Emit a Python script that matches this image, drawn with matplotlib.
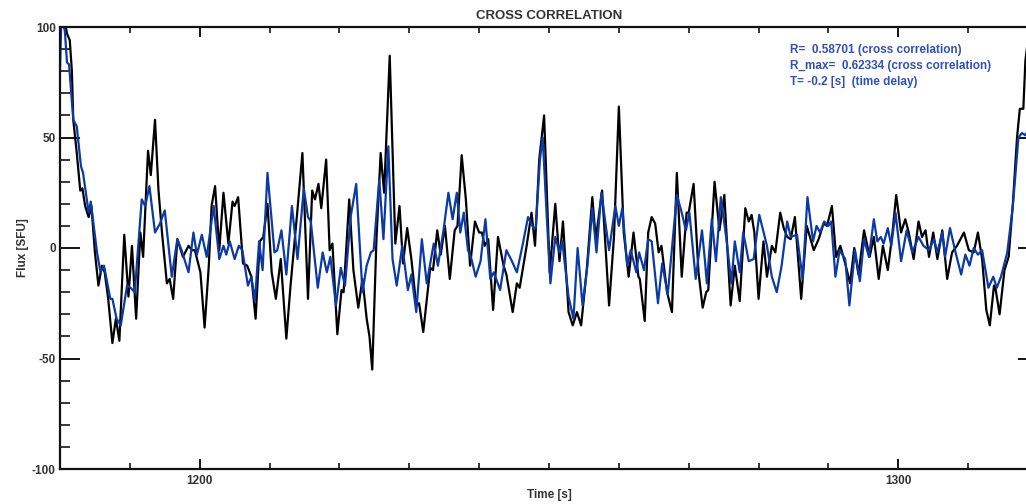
import matplotlib
matplotlib.use("Agg")
import matplotlib.pyplot as plt
from matplotlib.ticker import MultipleLocator

plt.rcParams['font.family'] = ['Liberation Sans', 'DejaVu Sans']
plt.rcParams['axes.unicode_minus'] = False

# black curve (reference flux)
black_t = [1180.0, 1181.0, 1181.4, 1181.7, 1181.9, 1182.4, 1182.9, 1183.2, 1183.6, 1184.1,
           1184.5, 1185.0, 1185.5, 1186.0, 1186.4, 1186.9, 1187.5, 1188.0, 1188.5, 1189.2,
           1189.8, 1190.3, 1190.9, 1191.5, 1191.9, 1192.6, 1193.0, 1193.6, 1194.1, 1194.6,
           1195.3, 1195.7, 1196.2, 1196.8, 1197.6, 1198.4, 1198.9, 1199.3, 1200.1, 1200.7,
           1201.3, 1201.7, 1202.2, 1202.8, 1203.4,
           1204.1, 1204.7, 1205.0, 1205.5, 1206.2, 1206.8, 1207.4, 1208.0, 1208.6, 1209.1,
           1209.7, 1210.3, 1210.9, 1211.6, 1212.4, 1213.0, 1213.9, 1214.7, 1215.5, 1216.1,
           1216.5, 1217.0, 1217.4, 1218.1, 1218.6, 1219.0, 1219.7, 1220.3, 1220.6, 1221.4,
           1222.0, 1222.7, 1223.3, 1223.9, 1224.3, 1224.7, 1225.3, 1225.9,
           1226.4, 1227.2, 1228.0, 1228.6, 1229.1, 1229.7, 1230.3, 1231.0, 1231.4, 1232.0,
           1233.0, 1233.4, 1234.0, 1234.5, 1235.1, 1235.8, 1236.5, 1236.9, 1237.5, 1238.1,
           1238.7, 1239.4, 1240.0, 1240.4, 1240.8, 1241.3, 1242.0, 1242.7, 1243.5, 1243.9,
           1244.8, 1245.4, 1245.8, 1246.8, 1247.5, 1248.0, 1248.6, 1249.3,
           1250.1, 1250.9, 1251.5, 1252.0, 1252.8, 1253.4, 1254.0, 1254.6, 1255.4, 1256.2,
           1256.7, 1257.6, 1258.6, 1259.3, 1260.0, 1260.7, 1261.4, 1262.1, 1262.8, 1263.0,
           1263.7, 1264.2, 1264.7, 1265.2, 1265.7, 1266.1, 1266.9, 1267.6, 1268.3, 1269.0,
           1269.7, 1270.0, 1270.7, 1271.4, 1272.0,
           1272.5, 1272.8, 1273.1, 1273.7, 1274.4, 1275.1, 1275.4, 1276.0, 1276.6, 1277.3,
           1278.1, 1278.6, 1279.0, 1279.4, 1280.0, 1280.7, 1281.2, 1281.9, 1282.4, 1283.1,
           1283.6, 1284.1, 1284.6, 1285.2, 1286.1, 1286.9, 1287.9, 1288.6, 1289.3, 1289.8,
           1290.5, 1291.1, 1291.7, 1292.4, 1293.1, 1293.7, 1294.3,
           1295.1, 1295.9, 1296.5, 1297.2, 1297.8, 1298.5, 1299.1, 1299.7, 1300.4, 1301.0,
           1301.5, 1302.2, 1302.9, 1303.4, 1303.9, 1304.4, 1305.0, 1305.6, 1306.3, 1307.0,
           1307.7, 1308.4, 1309.4, 1310.1, 1310.8, 1311.4, 1312.0, 1312.6, 1313.1, 1313.7,
           1313.9, 1314.5, 1315.2, 1315.8, 1316.4, 1317.0, 1317.4, 1317.9, 1318.2, 1318.8]
black_v = [115, 97, 94, 80, 58, 43, 26, 27, 19, 14,
           19, -2, -17, -8, -11, -23, -43, -32, -42, 6,
           -22, 1, -32, 7, -4, 44, 33, 58, 26, 7,
           -16, -14, -23, 4, -4, 1, -1, -1, -11, -36,
           -8, 19, 28, -1, 25,
           2, 21, 19, 23, -7, -8, -13, -32, 3, 5,
           20, -11, -23, -5, -41, -17, 14, 43, -23, 26,
           22, 29, 18, 40, -1, 2, -39, -19, -20, 22,
           -10, -27, -14, -32, -40, -55, 4, 43,
           25, 87, 2, 19, -7, 9, -5, -26, -25, -38,
           -9, -10, 8, -3, 10, -14, 8, 10, 42, 22,
           -8, 12, 7, 7, 1, 4, -28, 5, -8, -12,
           -29, -16, -18, 1, 16, 1, 40, 60,
           -11, 20, -6, 12, -29, -35, -29, -35, -10, 23,
           4, 26, -26, 5, 64, 7, -13, 7, -13, -14,
           -33, 7, 14, 11, -2, 1, -20, -29, 34, -13,
           16, 16, 29, -11, -27,
           -20, -19, -2, 30, 8, 24, 7, -26, -8, -24,
           18, 12, 15, 7, -23, 3, -13, 1, -2, 16,
           9, 5, 4, 14, -23, 10, -1, 4, 11, 10,
           19, -4, 1, -7, -16, 0, -12,
           8, -4, 5, -14, 1, -10, 5, 24, 7, 13,
           7, -5, 12, 5, 8, -4, 7, -5, 8, -14,
           -2, 1, 7, -1, -2, 7, -5, -28, -35, -17,
           -18, -30, -10, -4, 20, 50, 63, 63, 85, 100]

# blue curve (shifted flux)
blue_t = [1180.0, 1180.2, 1180.7, 1181.0, 1181.3, 1181.9, 1182.4, 1183.0, 1183.3, 1184.1,
          1184.4, 1185.3, 1185.8, 1186.3, 1187.2, 1187.5, 1188.1, 1188.7, 1189.6, 1190.1,
          1190.7, 1191.7, 1192.2, 1192.8, 1193.6, 1194.3, 1195.0, 1196.0, 1196.8, 1197.4,
          1197.8, 1198.4, 1199.1, 1199.6, 1200.3, 1201.0, 1202.0, 1202.8, 1203.4,
          1203.8, 1204.3, 1205.0, 1205.6, 1206.1, 1206.9, 1207.4, 1207.9, 1208.5, 1209.0,
          1209.7, 1210.7, 1211.1, 1211.7, 1212.4, 1213.2, 1214.0, 1214.9, 1215.5, 1215.9,
          1216.9, 1217.6, 1218.2, 1218.7, 1219.5, 1220.2, 1220.8, 1221.6, 1222.4, 1223.3,
          1223.9, 1224.5, 1224.9, 1225.7, 1226.3,
          1227.0, 1227.6, 1228.2, 1229.0, 1229.8, 1230.3, 1231.0, 1231.8, 1232.5, 1233.5,
          1234.1, 1234.9, 1235.6, 1236.2, 1236.8, 1237.3, 1237.8, 1238.4, 1238.9, 1239.5,
          1240.2, 1240.9, 1241.6, 1242.1, 1243.0, 1243.9, 1244.7, 1245.4, 1246.2, 1247.0,
          1247.8, 1248.1, 1248.7, 1249.1,
          1249.7, 1250.2, 1250.9, 1251.5, 1251.9, 1252.8, 1253.5, 1254.1, 1254.8, 1255.5,
          1256.2, 1256.8, 1257.5, 1258.6, 1259.5, 1260.0, 1260.5, 1261.2, 1261.7, 1262.5,
          1262.9, 1263.6, 1264.2, 1264.7, 1265.6, 1266.2, 1267.0, 1268.3, 1269.0, 1269.6,
          1270.1, 1271.0, 1271.9, 1272.3,
          1272.6, 1273.3, 1273.9, 1274.6, 1275.4, 1276.1, 1276.6, 1277.3, 1277.8, 1278.6,
          1279.3, 1280.1, 1281.2, 1281.9, 1282.6, 1283.3, 1284.1, 1284.6, 1285.5, 1286.3,
          1287.0, 1287.8, 1288.3, 1288.8, 1289.4, 1290.0, 1290.4, 1291.0, 1291.6, 1292.4,
          1293.0, 1293.8, 1294.5,
          1295.1, 1295.8, 1296.5, 1297.0, 1297.5, 1297.9, 1298.5, 1299.0, 1299.6, 1300.4,
          1301.2, 1302.0, 1302.9, 1303.6, 1304.4, 1305.1, 1305.6, 1306.3, 1306.7, 1307.4,
          1308.2, 1309.0, 1309.6, 1310.2, 1310.8, 1311.4, 1312.0, 1312.9, 1313.6, 1314.1,
          1314.7, 1315.6, 1316.4, 1317.2, 1317.7, 1318.2, 1318.8]
blue_v = [80, 105, 98, 84, 83, 58, 55, 37, 34, 16,
          21, -2, -11, -8, -23, -23, -32, -35, -17, -18,
          -20, 22, 19, 28, 7, 11, 17, -13, 4, -1,
          -5, -11, 7, -3, 6, -4, 19, -5, 1,
          -3, 3, -5, 1, -1, -17, -13, -24, 3, -10,
          34, -2, -1, 8, -12, 19, -5, 27, 14, 12,
          -18, -2, -11, -4, -26, -9, -17, 14, 29, -20,
          -8, -2, -1, 31, 4,
          46, -5, -17, 1, -19, -12, -29, 4, -16, 2,
          -8, 8, 25, 13, 25, 7, 16, -1, -5, -13,
          -6, 13, -14, -11, -19, -1, -6, -11, 1, 14,
          9, 9, 40, 50,
          13, -16, 5, -2, 3, -22, -32, 0, -26, -8,
          18, -2, 25, -1, 19, 10, 18, -8, -1, -11,
          -2, -10, 4, 3, -25, -7, -21, 24, 16, 8,
          16, -14, 8, -5,
          -16, 13, -6, 23, 4, -16, 3, -11, 7, -6,
          -5, 15, 1, -13, -20, -8, 12, 5, 6, -14,
          23, 3, 10, 7, 12, 10, 12, -13, -1, -5,
          -26, -1, -15,
          4, -4, 13, 3, 5, 2, 9, 1, 16, -6,
          8, -2, 5, 1, -1, 4, -2, 7, -4, 9,
          -2, -12, -3, -8, 0, -3, -1, -18, -13, -18,
          -13, -2, 19, 50, 52, 51, 55]

stats_text = ["R=  0.58701 (cross correlation)",
              "R_max=  0.62334 (cross correlation)",
              "T= -0.2 [s]  (time delay)"]

txt_col = '#333333'
fig = plt.figure(figsize=(10.26, 5.04), dpi=100)
ax = fig.add_axes([60 / 1026, 35 / 504, 978 / 1026, 442 / 504])

ax.plot(black_t, black_v, color='black', lw=1.6, solid_joinstyle='round')
ax.plot(blue_t, blue_v, color='#0b3aa6', lw=1.6, solid_joinstyle='round')

ax.set_xlim(1180, 1320)
ax.set_ylim(-100, 100)
ax.xaxis.set_major_locator(MultipleLocator(100))
ax.xaxis.set_minor_locator(MultipleLocator(10))
ax.yaxis.set_major_locator(MultipleLocator(50))
ax.yaxis.set_minor_locator(MultipleLocator(10))

for s in ax.spines.values():
    s.set_linewidth(1.6)
    s.set_color('#111111')

ax.tick_params(axis='x', which='major', direction='in', length=7, width=1.3,
               top=True, bottom=True, labelsize=8.5, labelcolor=txt_col, pad=4)
ax.tick_params(axis='x', which='minor', direction='in', length=4, width=1.1,
               top=True, bottom=True)
ax.tick_params(axis='y', which='major', direction='in', length=14.5, width=1.3,
               left=True, right=True, labelsize=8.5, labelcolor=txt_col, pad=3)
ax.tick_params(axis='y', which='minor', direction='in', length=7.2, width=1.1,
               left=True, right=True)
for lab in ax.get_xticklabels() + ax.get_yticklabels():
    lab.set_fontweight('bold')

ax.set_title('CROSS CORRELATION', fontsize=9.5, fontweight='bold', color=txt_col, pad=6)
ax.set_xlabel('Time [s]', fontsize=8.5, fontweight='bold', color=txt_col, labelpad=2)
ax.set_ylabel('Flux [SFU]', fontsize=8.5, fontweight='bold', color=txt_col, labelpad=2)

for i, line in enumerate(stats_text):
    ax.text(0.746, 0.948 - i * 0.036, line, transform=ax.transAxes, fontsize=8.5,
            fontweight='bold', color='#2f50c2', va='center', ha='left')

fig.savefig('out.png', dpi=100)
